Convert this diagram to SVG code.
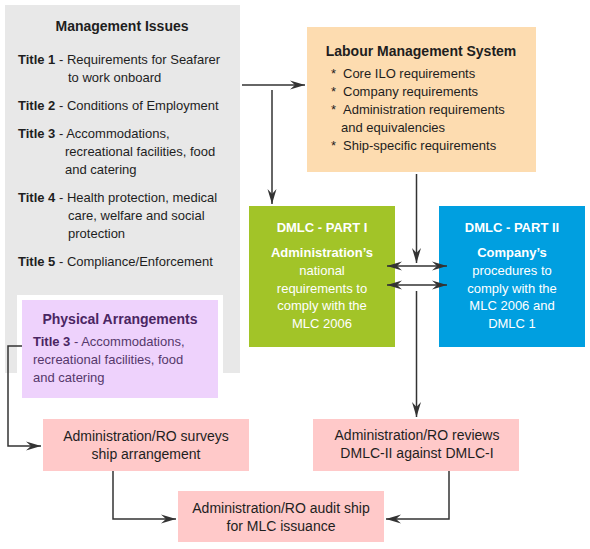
<svg xmlns="http://www.w3.org/2000/svg" width="590" height="549" viewBox="0 0 590 549">
<style>
text{font-family:"Liberation Sans",Arial,sans-serif;font-size:13px;fill:#1e1e1e}
.b{font-weight:bold}
.t14{font-size:14px}
.c{text-anchor:middle}
.w{fill:#ffffff}
.p{fill:#55386b}
.pb{fill:#4a2562;font-weight:bold}
.ln{fill:none;stroke:#333333;stroke-width:1.5}
</style>
<defs>
<marker id="ah" markerUnits="userSpaceOnUse" markerWidth="16" markerHeight="9" refX="15" refY="4.5" orient="auto-start-reverse" overflow="visible">
<path d="M0,0 L15,4.5 L0,9 L5,4.5 z" fill="#333333"/>
</marker>
</defs>
<rect width="590" height="549" fill="#ffffff"/>

<g id="management-issues">
<rect x="5" y="5" width="235" height="368" fill="#e8e8e8"/>
<text class="b t14 c" x="122" y="31">Management Issues</text>
<text x="18" y="64"><tspan class="b">Title 1</tspan> - Requirements for Seafarer</text>
<text x="68" y="82">to work onboard</text>
<text x="18" y="110"><tspan class="b">Title 2</tspan> - Conditions of Employment</text>
<text x="18" y="138"><tspan class="b">Title 3</tspan> - Accommodations,</text>
<text x="65" y="156">recreational facilities, food</text>
<text x="65" y="174">and catering</text>
<text x="18" y="202"><tspan class="b">Title 4</tspan> - Health protection, medical</text>
<text x="68" y="220">care, welfare and social</text>
<text x="68" y="238">protection</text>
<text x="18" y="266"><tspan class="b">Title 5</tspan> - Compliance/Enforcement</text>
</g>

<g id="physical-arrangements">
<rect x="17" y="295" width="206" height="108" fill="#ffffff"/>
<rect x="22" y="300" width="196" height="98" fill="#eed2fc"/>
<text class="pb t14 c" x="120" y="324">Physical Arrangements</text>
<text class="p" x="33" y="346"><tspan class="pb">Title 3</tspan> - Accommodations,</text>
<text class="p" x="33" y="364">recreational facilities, food</text>
<text class="p" x="33" y="382">and catering</text>
</g>

<g id="labour-management-system">
<rect x="307" y="27" width="229" height="145" fill="#fddcb0"/>
<text class="b t14 c" x="421" y="56">Labour Management System</text>
<text x="331" y="78">*</text><text x="343" y="78">Core ILO requirements</text>
<text x="331" y="96">*</text><text x="343" y="96">Company requirements</text>
<text x="331" y="114">*</text><text x="343" y="114">Administration requirements</text>
<text x="341" y="132">and equivalencies</text>
<text x="331" y="150">*</text><text x="343" y="150">Ship-specific requirements</text>
</g>

<g id="dmlc-part-1">
<rect x="249" y="206" width="146" height="141" fill="#a2c428"/>
<text class="w b c" x="322" y="232">DMLC - PART I</text>
<text class="w b c" x="322" y="257">Administration’s</text>
<text class="w c" x="322" y="275">national</text>
<text class="w c" x="322" y="292.5">requirements to</text>
<text class="w c" x="322" y="310">comply with the</text>
<text class="w c" x="322" y="328">MLC 2006</text>
</g>

<g id="dmlc-part-2">
<rect x="439" y="206" width="146" height="141" fill="#009fe0"/>
<text class="w b c" x="512" y="232">DMLC - PART II</text>
<text class="w b c" x="512" y="257">Company’s</text>
<text class="w c" x="512" y="275">procedures to</text>
<text class="w c" x="512" y="292.5">comply with the</text>
<text class="w c" x="512" y="310">MLC 2006 and</text>
<text class="w c" x="512" y="328">DMLC 1</text>
</g>

<g id="surveys">
<rect x="43" y="419" width="206" height="52" fill="#ffc9c9"/>
<text class="t14 c" x="146" y="441">Administration/RO surveys</text>
<text class="t14 c" x="146" y="459">ship arrangement</text>
</g>

<g id="reviews">
<rect x="313" y="419" width="206" height="52" fill="#ffc9c9"/>
<text class="t14 c" x="417" y="440">Administration/RO reviews</text>
<text class="t14 c" x="417" y="458">DMLC-II against DMLC-I</text>
</g>

<g id="audit">
<rect x="178" y="491" width="206" height="51" fill="#ffc9c9"/>
<text class="t14 c" x="281" y="513">Administration/RO audit ship</text>
<text class="t14 c" x="281" y="531">for MLC issuance</text>
</g>

<g id="connectors">
<path class="ln" d="M242,85 H305" marker-end="url(#ah)"/>
<path class="ln" d="M272,90 V204" marker-end="url(#ah)"/>
<path class="ln" d="M416.5,174 V263" marker-end="url(#ah)"/>
<path class="ln" d="M387,266 H447" marker-start="url(#ah)" marker-end="url(#ah)"/>
<path class="ln" d="M387,285 H447" marker-start="url(#ah)" marker-end="url(#ah)"/>
<path class="ln" d="M416.5,291 V417" marker-end="url(#ah)"/>
<path class="ln" d="M22,346 H8 V446 H41" marker-end="url(#ah)"/>
<path class="ln" d="M113,471 V519 H176" marker-end="url(#ah)"/>
<path class="ln" d="M449,471 V519 H386" marker-end="url(#ah)"/>
</g>
</svg>
